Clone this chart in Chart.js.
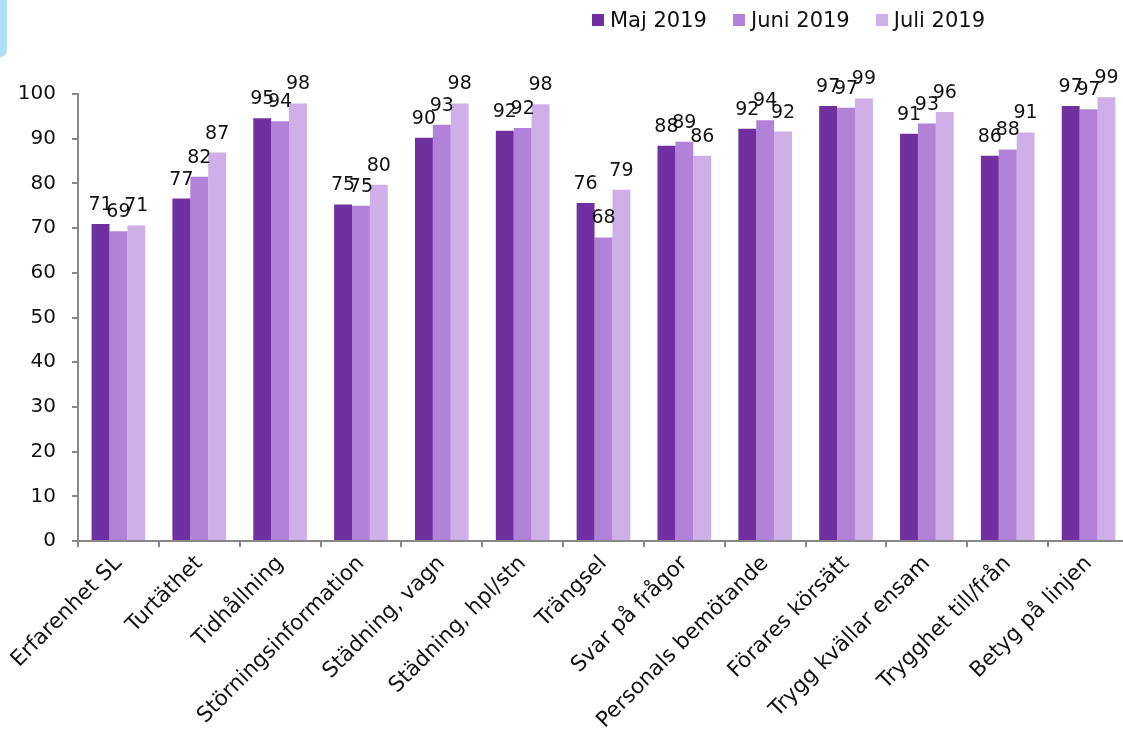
<!DOCTYPE html>
<html>
<head>
<meta charset="utf-8">
<script src="https://cdn.jsdelivr.net/npm/chart.js@4"></script>
<style>
  html, body { margin: 0; padding: 0; background: #fff; overflow: hidden; }
  #wrap { position: relative; width: 1123px; height: 733px; overflow: hidden; }
  #corner { position: absolute; left: 0; top: 0; width: 7px; height: 57px; background: #afdff7; border-bottom-right-radius: 7px; }
  #chartBox { position: absolute; left: 0; top: 0; width: 1140px; height: 733px; }
  #legend { position: absolute; left: 592px; top: 8px; font-family: 'DejaVu Sans', Verdana, sans-serif; font-size: 21px; color: #111; white-space: nowrap; }
  #legend span.item { display: inline-block; margin-right: 26px; }
  #legend span.box { display: inline-block; width: 12px; height: 12px; margin-right: 6px; vertical-align: 1px; }
</style>
</head>
<body>
<div id="wrap">
  <div id="chartBox"><canvas id="surveyChart" width="1140" height="733"></canvas></div>
  <div id="corner"></div>
  <div id="legend"></div>
</div>
<script>
// Kategorier och värden
const categories = ['Erfarenhet SL', 'Turtäthet', 'Tidhållning', 'Störningsinformation', 'Städning, vagn',
    'Städning, hpl/stn', 'Trängsel', 'Svar på frågor', 'Personals bemötande', 'Förares körsätt',
    'Trygg kvällar ensam', 'Trygghet till/från', 'Betyg på linjen'];
const seriesNames = ['Maj 2019', 'Juni 2019', 'Juli 2019'];
const maj2019  = [70.9, 76.6, 94.6, 75.3, 90.2, 91.8, 75.6, 88.4, 92.2, 97.3, 91.1, 86.2, 97.3];
const juni2019 = [69.3, 81.5, 93.9, 75.0, 93.1, 92.4, 67.9, 89.3, 94.1, 96.9, 93.4, 87.6, 96.6];
const juli2019 = [70.6, 86.9, 97.9, 79.7, 97.9, 97.7, 78.6, 86.2, 91.6, 99.0, 96.0, 91.4, 99.3];
const colors = ['#7030a0', '#b282d9', '#cfafe7'];
const yTicks = [0, 10, 20, 30, 40, 50, 60, 70, 80, 90, 100];

const fontFamily = "'DejaVu Sans', Verdana, sans-serif";

// Etiketter ovanför staplarna
const valueLabels = {
    id: 'valueLabels',
    afterDatasetsDraw(chart) {
        const ctx = chart.ctx;
        ctx.save();
        ctx.font = '19px ' + fontFamily;
        ctx.fillStyle = '#111';
        ctx.textAlign = 'center';
        ctx.textBaseline = 'alphabetic';
        chart.data.datasets.forEach(function(ds, i) {
            chart.getDatasetMeta(i).data.forEach(function(bar, j) {
                ctx.fillText(String(Math.round(ds.data[j])), bar.x, bar.y - 14);
            });
        });
        ctx.restore();
    }
};

const allSeries = [maj2019, juni2019, juli2019];

new Chart(document.getElementById('surveyChart').getContext('2d'), {
    type: 'bar',
    data: {
        labels: categories,
        datasets: allSeries.map(function(values, i) {
            return {
                label: seriesNames[i],
                data: values,
                backgroundColor: colors[i],
                borderWidth: 0,
                barPercentage: 1.0,
                categoryPercentage: 0.664
            };
        })
    },
    options: {
        responsive: false,
        animation: false,
        layout: { padding: { top: 94, left: 0, right: 11, bottom: 0 } },
        plugins: {
            legend: { display: false },
            tooltip: { enabled: false }
        },
        scales: {
            x: {
                grid: { drawOnChartArea: false, drawTicks: true, tickLength: 6, color: '#888', lineWidth: 2 },
                border: { display: true, color: '#888', width: 2 },
                ticks: {
                    autoSkip: false,
                    minRotation: 45,
                    maxRotation: 45,
                    padding: 4,
                    color: '#111',
                    font: { family: fontFamily, size: 21.5 }
                },
                afterFit: function(scale) { scale.height = 192; }
            },
            y: {
                min: 0,
                max: 100,
                afterBuildTicks: function(scale) {
                    scale.ticks = yTicks.map(function(v) { return { value: v }; });
                },
                grid: { drawOnChartArea: false, drawTicks: true, tickLength: 6, color: '#888', lineWidth: 2 },
                border: { display: true, color: '#888', width: 2 },
                ticks: {
                    padding: 16,
                    color: '#111',
                    font: { family: fontFamily, size: 20 }
                },
                afterFit: function(scale) { scale.width = 78; }
            }
        }
    },
    plugins: [valueLabels]
});

// Förklaring
const legend = document.getElementById('legend');
seriesNames.forEach(function(name, i) {
    const item = document.createElement('span');
    item.className = 'item';
    item.innerHTML = '<span class="box" style="background:' + colors[i] + '"></span>' + name;
    legend.appendChild(item);
});
</script>
</body>
</html>
